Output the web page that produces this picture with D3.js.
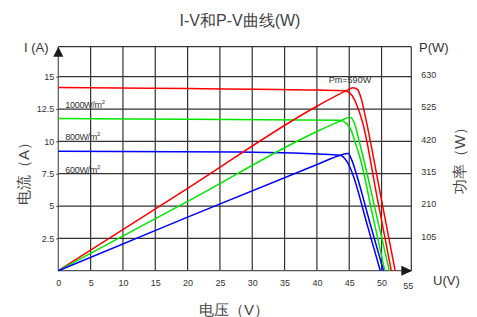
<!DOCTYPE html>
<html>
<head>
<meta charset="utf-8">
<script src="https://cdn.jsdelivr.net/npm/d3@7"></script>
<style>
  body { margin: 0; background: #fff; }
  text { font-family: "Liberation Sans", Arial, sans-serif; }
</style>
</head>
<body>
<script>
// tick values
var voltageTicks = [0, 5, 10, 15, 20, 25, 30, 35, 40, 45, 50];
var voltageEnd = 55;
var currentTicks = [2.5, 5, 7.5, 10, 12.5, 15];
var currentLabels = ["2.5", "5", "7.5", "10", "12.5", "15"];
var powerTicks = [105, 210, 315, 420, 525, 630];

// irradiance labels (sit on the 12.5 / 10 / 7.5 A lines)
var irradiance = ["1000W/m", "800W/m", "600W/m"];
var irradianceAt = [12.5, 10, 7.5];
var seriesColors = ["#ff0000", "#00e600", "#0000ff"];
var peakLabel = "Pm=590W";

// I-V curves [V, A]
var iv1000 = [[0, 14.17], [20, 14.08], [40, 13.97], [44.3, 13.92], [45.4, 13.56], [46.2, 12.78], [47.1, 11.4], [49.3, 5.7], [51.5, 0]];
var iv800 = [[0, 11.76], [20, 11.71], [43.5, 11.63], [44.6, 11.37], [45.4, 10.73], [45.9, 9.95], [46.7, 8.67], [48.6, 4.33], [50.5, 0]];
var iv600 = [[0, 9.24], [28, 9.18], [43.6, 8.93], [44.3, 8.67], [45.1, 8.02], [45.6, 7.38], [47.7, 3.69], [49.8, 0]];

// P-V curves [V, W]
var pv1000 = [[0, 0], [20, 267], [40, 534], [44.5, 584], [45.6, 594], [46.3, 588], [46.9, 555], [47.6, 490], [49.85, 245], [52.1, 0]];
var pv800 = [[0, 0], [20, 225], [40.5, 457], [43.5, 485], [45.1, 498], [45.9, 473], [46.55, 419], [47.2, 365], [49.2, 182], [51.2, 0]];
var pv600 = [[0, 0], [20, 174], [40.5, 349], [43.5, 374], [44.85, 381], [45.4, 359], [46.15, 311], [48.2, 155], [50.3, 0]];

var svg = d3.select("body").append("svg")
    .attr("width", 477)
    .attr("height", 317);

var plot = { left: 58.3, right: 411.3, top: 46.7, bottom: 270.7 };

var x = d3.scaleLinear().domain([0, 54.6]).range([plot.left, plot.right]);
var yI = d3.scaleLinear().domain([0, 15]).range([plot.bottom, 76.7]);
var yP = d3.scaleLinear().domain([0, 630]).range([plot.bottom, 76.7]);

var gridColor = "#333";

// grid
var grid = svg.append("g").attr("stroke", gridColor).attr("stroke-width", 1.2);
grid.selectAll("line.v")
    .data(voltageTicks.slice(1))
    .enter().append("line")
    .attr("x1", function (d) { return x(d); })
    .attr("x2", function (d) { return x(d); })
    .attr("y1", plot.top)
    .attr("y2", plot.bottom);
grid.append("line")
    .attr("x1", plot.right).attr("x2", plot.right)
    .attr("y1", plot.top).attr("y2", plot.bottom);
grid.selectAll("line.h")
    .data(currentTicks)
    .enter().append("line")
    .attr("x1", plot.left)
    .attr("x2", plot.right)
    .attr("y1", function (d) { return yI(d); })
    .attr("y2", function (d) { return yI(d); });
grid.append("line")
    .attr("x1", plot.left).attr("x2", plot.right)
    .attr("y1", plot.top).attr("y2", plot.top);

// left axis
var leftAxis = svg.append("g")
    .attr("transform", "translate(" + plot.left + ",0)")
    .call(d3.axisLeft(yI).tickValues(currentTicks).tickSize(2).tickPadding(2)
        .tickFormat(function (d, i) { return currentLabels[i]; }));
leftAxis.select(".domain").remove();
leftAxis.selectAll("line").attr("stroke", gridColor);
leftAxis.selectAll("text").attr("font-size", "9px").attr("fill", "#333")
    .attr("font-family", "Liberation Sans, Arial, sans-serif");
svg.append("line")
    .attr("x1", plot.left).attr("x2", plot.left)
    .attr("y1", plot.top).attr("y2", plot.bottom)
    .attr("stroke", "#555").attr("stroke-width", 1.2);

// bottom axis
var bottomAxis = svg.append("g")
    .attr("transform", "translate(0," + plot.bottom + ")")
    .call(d3.axisBottom(x).tickValues(voltageTicks).tickSize(0).tickPadding(9));
bottomAxis.select(".domain").remove();
bottomAxis.selectAll("text").attr("font-size", "9px").attr("fill", "#333")
    .attr("font-family", "Liberation Sans, Arial, sans-serif");
svg.append("line")
    .attr("x1", plot.left).attr("x2", plot.right)
    .attr("y1", plot.bottom).attr("y2", plot.bottom)
    .attr("stroke", "#555").attr("stroke-width", 1.2);
svg.append("text")
    .attr("x", plot.right - 3)
    .attr("y", plot.bottom + 18)
    .attr("text-anchor", "middle")
    .attr("font-size", "9px")
    .attr("fill", "#333")
    .text(voltageEnd);

// right axis
var rightAxis = svg.append("g")
    .attr("transform", "translate(" + plot.right + ",0)")
    .call(d3.axisRight(yP).tickValues(powerTicks).tickSize(0).tickPadding(10));
rightAxis.select(".domain").remove();
rightAxis.selectAll("text").attr("font-size", "9px").attr("fill", "#333")
    .attr("y", -2)
    .attr("font-family", "Liberation Sans, Arial, sans-serif");

// arrows
svg.append("path")
    .attr("d", "M" + plot.left + "," + plot.top + "L" + (plot.left - 5) + "," + (plot.top + 10) + "L" + (plot.left + 5) + "," + (plot.top + 10) + "Z")
    .attr("fill", "#1a1a1a");
svg.append("path")
    .attr("d", "M" + (plot.right + 1) + "," + plot.bottom + "L" + (plot.right - 10) + "," + (plot.bottom - 5) + "L" + (plot.right - 10) + "," + (plot.bottom + 5) + "Z")
    .attr("fill", "#1a1a1a");

// curves
var ivLine = d3.line()
    .x(function (d) { return x(d[0]); })
    .y(function (d) { return yI(d[1]); })
    .curve(d3.curveMonotoneX);
var pvLine = d3.line()
    .x(function (d) { return x(d[0]); })
    .y(function (d) { return yP(d[1]); })
    .curve(d3.curveMonotoneX);

var ivSeries = [iv1000, iv800, iv600];
var pvSeries = [pv1000, pv800, pv600];

svg.selectAll("path.iv")
    .data(ivSeries)
    .enter().append("path")
    .attr("class", "iv")
    .attr("fill", "none")
    .attr("stroke", function (d, i) { return seriesColors[i]; })
    .attr("stroke-width", 1.5)
    .attr("d", ivLine);
svg.selectAll("path.pv")
    .data(pvSeries)
    .enter().append("path")
    .attr("class", "pv")
    .attr("fill", "none")
    .attr("stroke", function (d, i) { return seriesColors[i]; })
    .attr("stroke-width", 1.5)
    .attr("d", pvLine);

// irradiance labels
var irr = svg.selectAll("text.irr")
    .data(irradiance)
    .enter().append("text")
    .attr("class", "irr")
    .attr("x", plot.left + 7)
    .attr("y", function (d, i) { return yI(irradianceAt[i]) - 1; })
    .attr("font-size", "9px")
    .attr("fill", "#333")
    .attr("letter-spacing", "-0.3px")
    .text(function (d) { return d; });
irr.append("tspan")
    .attr("dy", -4)
    .attr("font-size", "6px")
    .text("2");

svg.append("text")
    .attr("x", 350)
    .attr("y", 83)
    .attr("text-anchor", "middle")
    .attr("font-size", "9px")
    .attr("fill", "#333")
    .text(peakLabel);

// titles
svg.append("text")
    .attr("x", 240)
    .attr("y", 26)
    .attr("text-anchor", "middle")
    .attr("font-family", "Noto Sans CJK SC")
    .attr("font-size", "16px")
    .attr("fill", "#444")
    .text("I-V和P-V曲线(W)");

svg.append("text")
    .attr("x", 24)
    .attr("y", 52)
    .attr("font-size", "13px")
    .attr("fill", "#333")
    .text("I (A)");
svg.append("text")
    .attr("x", 419)
    .attr("y", 52)
    .attr("font-size", "13px")
    .attr("fill", "#333")
    .text("P(W)");
svg.append("text")
    .attr("x", 433)
    .attr("y", 285)
    .attr("font-size", "13px")
    .attr("fill", "#333")
    .text("U(V)");

svg.append("text")
    .attr("transform", "translate(29,170) rotate(-90)")
    .attr("text-anchor", "middle")
    .attr("font-family", "Noto Sans CJK SC")
    .attr("font-size", "15px")
    .attr("fill", "#444")
    .text("电流（A）");
svg.append("text")
    .attr("transform", "translate(465,157) rotate(-90)")
    .attr("text-anchor", "middle")
    .attr("font-family", "Noto Sans CJK SC")
    .attr("font-size", "15px")
    .attr("fill", "#444")
    .text("功率（W）");
svg.append("text")
    .attr("x", 234)
    .attr("y", 315)
    .attr("text-anchor", "middle")
    .attr("font-family", "Noto Sans CJK SC")
    .attr("font-size", "15px")
    .attr("fill", "#444")
    .text("电压（V）");
</script>
</body>
</html>
